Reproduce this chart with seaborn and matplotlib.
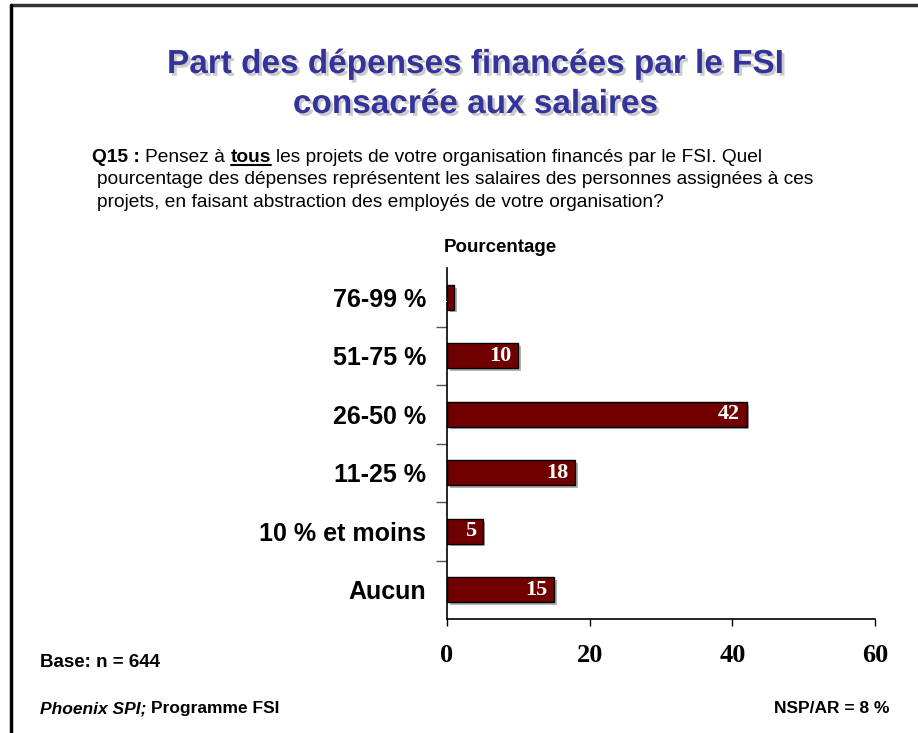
import matplotlib
matplotlib.use("Agg")
import matplotlib.pyplot as plt
import matplotlib.patheffects as pe
from matplotlib import font_manager
from matplotlib.lines import Line2D
import seaborn as sns
import pandas as pd

# ======== Data ========

categories = ["76-99 %", "51-75 %", "26-50 %", "11-25 %", "10 % et moins", "Aucun"]
values = [1, 10, 42, 18, 5, 15]
x_ticks = [0, 20, 40, 60]

title_lines = ["Part des dépenses financées par le FSI", "consacrée aux salaires"]
question = [
    [("Q15 :", "bold", False), ("Pensez à", "normal", False), ("tous", "bold", True),
     ("les projets de votre organisation financés par le FSI. Quel", "normal", False)],
    [("pourcentage des dépenses représentent les salaires des personnes assignées à ces", "normal", False)],
    [("projets, en faisant abstraction des employés de votre organisation?", "normal", False)],
]

# ======== Style ========

sns.set_style("white")
names = {f.name for f in font_manager.fontManager.ttflist}
narrow = "Liberation Sans Narrow" if "Liberation Sans Narrow" in names else "Liberation Sans"
plt.rcParams["font.family"] = ["Liberation Sans", "DejaVu Sans"]
plt.rcParams["text.color"] = "black"
plt.rcParams["xtick.color"] = "black"
plt.rcParams["ytick.color"] = "black"
plt.rcParams["axes.labelcolor"] = "black"

W, H = 918, 733
fig = plt.figure(figsize=(W / 100, H / 100), dpi=100)
fig.patch.set_facecolor("white")

def fx(px):
    return px / W

def fy(py):
    return 1 - py / H

# ======== Bars ========

ax = fig.add_axes([fx(447), fy(619), fx(875) - fx(447), fy(268) - fy(619)])
df = pd.DataFrame({"cat": categories, "val": values})
sns.barplot(data=df, x="val", y="cat", orient="h", color="#700000", saturation=1,
            edgecolor="black", linewidth=1, width=0.42, ax=ax)

for p in ax.patches:
    p.set_path_effects([pe.SimplePatchShadow(offset=(2, -2), shadow_rgbFace="#808080", alpha=0.6), pe.Normal()])

for i, v in enumerate(values):
    ax.annotate(str(v), xy=(v, i), xytext=(-5, 0), textcoords="offset points",
                ha="right", va="center", color="white", fontsize=16, fontweight="bold",
                family="Liberation Serif")

ax.set_xlim(0, 60)
ax.set_ylim(len(categories) - 0.5, -0.5)
ax.set_xlabel("")
ax.set_ylabel("")
ax.set_xticks(x_ticks)
ax.set_xticklabels([str(t) for t in x_ticks], fontsize=19, fontweight="bold", family="Liberation Serif")
ax.tick_params(axis="x", length=5, width=1, color="black", pad=13, direction="out", bottom=True)
ax.set_yticks(range(len(categories)))
ax.set_yticklabels(categories, fontsize=18, fontweight="bold")
ax.tick_params(axis="y", length=0, pad=15)
ax.set_yticks([i + 0.5 for i in range(len(categories) - 1)], minor=True)
ax.tick_params(axis="y", which="minor", length=8, width=1, color="#555555", left=True)
for s in ["top", "right"]:
    ax.spines[s].set_visible(False)
for s in ["left", "bottom"]:
    ax.spines[s].set_color("black")
    ax.spines[s].set_linewidth(1.2)
ax.grid(False)

# ======== Texts ========

shadow = [pe.withSimplePatchShadow(offset=(2, -2), shadow_rgbFace="#999999", alpha=0.5)]
fig.text(fx(476), fy(73), title_lines[0], ha="center", va="baseline", fontsize=24,
         fontweight="bold", color="#333399", path_effects=shadow)
fig.text(fx(476), fy(113), title_lines[1], ha="center", va="baseline", fontsize=24,
         fontweight="bold", color="#333399", path_effects=shadow)

r = fig.canvas.get_renderer()
q_size = 13.8
fp = font_manager.FontProperties(family=narrow, size=q_size)
sp_w = (r.get_text_width_height_descent("x x", fp, False)[0]
        - r.get_text_width_height_descent("xx", fp, False)[0])
line_x = [92, 97, 97]
line_y = [162, 184, 207]
for li, parts in enumerate(question):
    x = line_x[li]
    for txt, weight, under in parts:
        t = fig.text(fx(x), fy(line_y[li]), txt, fontsize=q_size, fontweight=weight,
                     family=narrow, ha="left", va="baseline")
        bb = t.get_window_extent(r)
        if under:
            fig.add_artist(Line2D([fx(x), fx(x + bb.width)], [fy(line_y[li] + 3)] * 2,
                                  transform=fig.transFigure, color="black", lw=1.5))
        x = x + bb.width + sp_w

fig.text(fx(500), fy(252), "Pourcentage", ha="center", va="baseline", fontsize=13.5,
         fontweight="bold")

fig.text(fx(40), fy(667), "Base: n = 644", ha="left", va="baseline", fontsize=13.5,
         fontweight="bold", family=narrow)
t = fig.text(fx(40), fy(713), "Phoenix SPI;", ha="left", va="baseline", fontsize=12.5,
             fontweight="bold", style="italic", family=narrow)
bb = t.get_window_extent(r)
fig.text(fx(40 + bb.width + sp_w * 0.8), fy(713), "Programme FSI", ha="left", va="baseline",
         fontsize=12.5, fontweight="bold", family=narrow)
fig.text(fx(890), fy(713), "NSP/AR = 8 %", ha="right", va="baseline", fontsize=12.5,
         fontweight="bold", family=narrow)

# ======== Frame ========

fig.add_artist(Line2D([fx(11), 1], [fy(5), fy(5)], transform=fig.transFigure, color="#333333", lw=2.5))
fig.add_artist(Line2D([fx(11), fx(11)], [0, fy(5)], transform=fig.transFigure, color="black", lw=2.5))

fig.savefig("out.png", dpi=100, facecolor="white")
